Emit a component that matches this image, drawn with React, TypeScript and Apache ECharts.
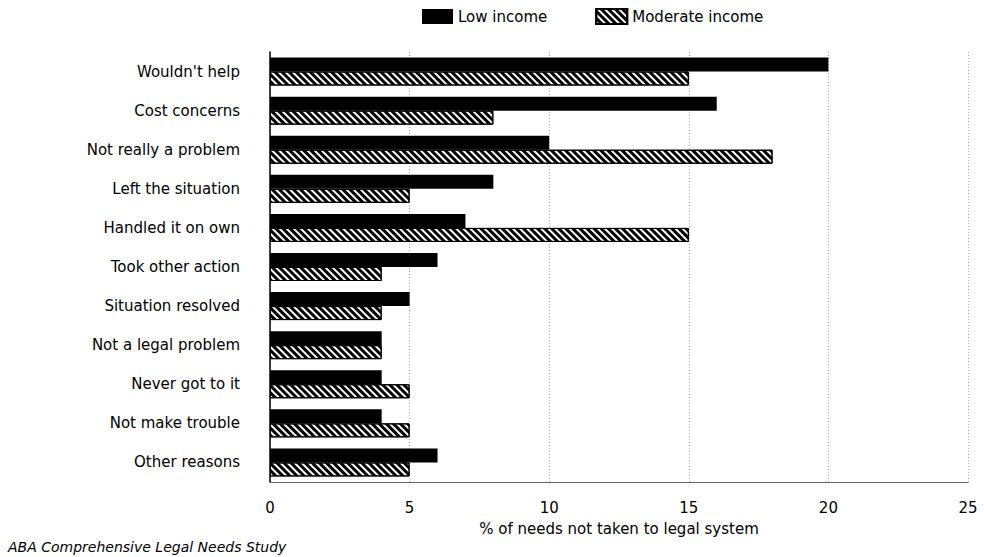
import React, { useEffect, useRef } from "react";
import * as echarts from "echarts";

const categories = [
  "Wouldn't help",
  "Cost concerns",
  "Not really a problem",
  "Left the situation",
  "Handled it on own",
  "Took other action",
  "Situation resolved",
  "Not a legal problem",
  "Never got to it",
  "Not make trouble",
  "Other reasons",
];
const lowIncome = [20, 16, 10, 8, 7, 6, 5, 4, 4, 4, 6];
const moderateIncome = [15, 8, 18, 5, 15, 4, 4, 4, 5, 5, 5];
const xTicks = [0, 5, 10, 15, 20, 25];

const FONT = "DejaVu Sans";

export default function App() {
  const ref = useRef<HTMLDivElement>(null);
  useEffect(() => {
    document.body.style.margin = "0";
    const chart = echarts.init(ref.current!, null, { renderer: "svg" });
    const hatch = {
      symbol: "rect",
      symbolSize: 1,
      color: "#000",
      dashArrayX: [1, 0],
      dashArrayY: [2.2, 1.6],
      rotation: Math.PI / 4,
    };
    chart.setOption({
      animation: false,
      backgroundColor: "#fff",
      textStyle: { fontFamily: FONT, color: "#000" },
      legend: {
        top: 3,
        left: 417,
        itemWidth: 31,
        itemHeight: 15,
        itemGap: 48,
        icon: "rect",
        textStyle: { fontFamily: FONT, fontSize: 15, color: "#000" },
        data: ["Low income", "Moderate income"],
      },
      title: {
        text: "ABA Comprehensive Legal Needs Study",
        left: 3,
        top: 535,
        textStyle: {
          fontFamily: FONT,
          fontSize: 14,
          fontStyle: "italic",
          fontWeight: "normal",
          color: "#000",
        },
      },
      grid: { left: 270, right: 16, top: 52, bottom: 75, containLabel: false },
      xAxis: {
        type: "value",
        min: xTicks[0],
        max: xTicks[xTicks.length - 1],
        interval: 5,
        name: "% of needs not taken to legal system",
        nameLocation: "middle",
        nameGap: 39,
        nameTextStyle: { fontFamily: FONT, fontSize: 15, color: "#000" },
        axisLine: { show: true, lineStyle: { color: "#666", width: 1 } },
        axisTick: { show: false },
        axisLabel: {
          fontFamily: FONT,
          fontSize: 15,
          color: "#000",
          margin: 18,
          formatter: (v: number) => (xTicks.includes(v) ? String(v) : ""),
        },
        splitLine: {
          show: true,
          lineStyle: { color: "#aaa", type: [1, 2], width: 1 },
        },
      },
      yAxis: {
        type: "category",
        data: categories,
        inverse: true,
        axisLine: { show: true, lineStyle: { color: "#000", width: 1.5 } },
        axisTick: { show: false },
        axisLabel: {
          fontFamily: FONT,
          fontSize: 15,
          color: "#000",
          margin: 30,
        },
        splitLine: { show: false },
      },
      series: [
        {
          name: "Low income",
          type: "bar",
          data: lowIncome,
          barWidth: 14,
          barGap: "0%",
          itemStyle: { color: "#000" },
        },
        {
          name: "Moderate income",
          type: "bar",
          data: moderateIncome,
          barWidth: 14,
          barGap: "0%",
          itemStyle: {
            color: "#fff",
            borderColor: "#000",
            borderWidth: 1,
            decal: hatch,
          },
        },
      ],
    });
    return () => chart.dispose();
  }, []);
  return <div ref={ref} style={{ width: 984, height: 557 }} />;
}
